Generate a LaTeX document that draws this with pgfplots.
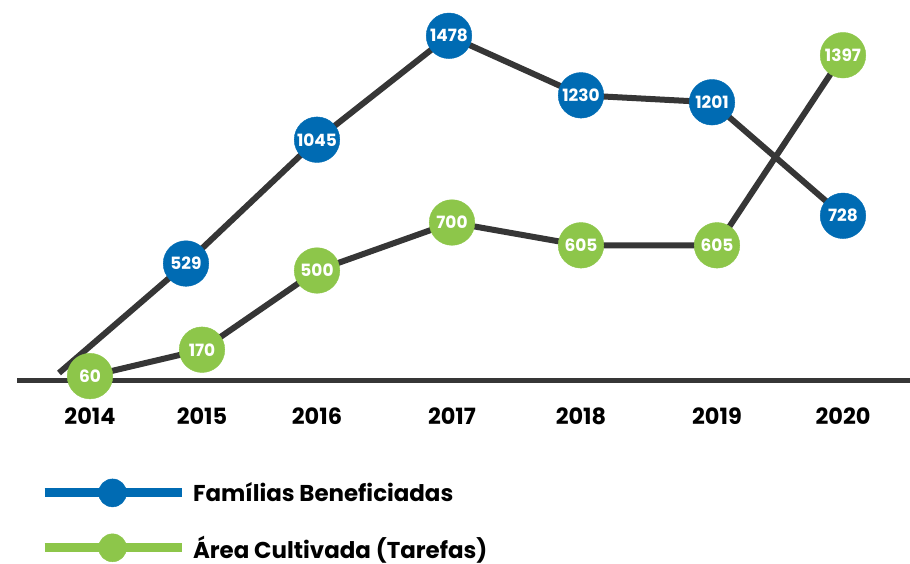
\documentclass[border=0pt]{standalone}
\usepackage{fontspec}
\setmainfont{Poppins}
\usepackage{pgfplots}
\pgfplotsset{compat=1.18}
\usepackage{pgfplotstable}
\definecolor{fblue}{RGB}{0,107,179}
\definecolor{agreen}{RGB}{141,198,74}
\definecolor{lgray}{RGB}{54,54,54}

\pgfplotstableread{
x v lab
59 73 x
186 529 529
317 1045 1045
449 1478 1478
581 1230 1230
712 1201 1201
843 728 728
}\familias

\pgfplotstableread{
x v lab
90 60 60
202 170 170
317 500 500
452 700 700
581 605 605
717 605 605
843 1397 1397
}\area

\begin{document}
\begin{tikzpicture}
\begin{axis}[
  at={(0,173.5bp)}, anchor=south west,
  x=1bp, y=0.24bp,
  xmin=0, xmax=910, ymin=0, ymax=1627,
  axis line style={draw=none}, tick style={draw=none}, ytick=\empty,
  xtick={90,202,317,452,581,717,843},
  xticklabels={2014,2015,2016,2017,2018,2019,2020},
  xticklabel style={anchor=base, yshift=-34.5bp, font=\fontsize{22.5}{22.5}\selectfont\bfseries},
  clip=false,
  legend cell align=left,
  legend style={at={(axis description cs:0.0440,-0.2259)}, anchor=north west,
    draw=none, fill=none, inner sep=0pt, outer sep=0pt, row sep=26.5bp, column sep=5bp,
    font=\fontsize{23}{23}\selectfont\bfseries},
]
\addplot[lgray, line width=5bp, forget plot] coordinates {(17,39.6) (910,39.6)};
\addplot[lgray, line width=6bp, line join=round, forget plot] table[x=x,y=v] \familias;
\addplot[lgray, line width=6bp, line join=round, forget plot] table[x=x,y=v] \area;
\addplot[fblue, only marks, mark=*, mark size=22.8bp, mark options={fill=fblue, draw=fblue, line width=0.4bp},
  skip coords between index={0}{1},
  point meta=explicit symbolic, nodes near coords,
  every node near coord/.append style={anchor=center, text=white, font=\fontsize{17}{17}\selectfont\bfseries},
  forget plot] table[x=x,y=v,meta=lab] \familias;
\addplot[agreen, only marks, mark=*, mark size=22.8bp, mark options={fill=agreen, draw=agreen, line width=0.4bp},
  point meta=explicit symbolic, nodes near coords,
  every node near coord/.append style={anchor=center, text=white, font=\fontsize{17}{17}\selectfont\bfseries},
  forget plot] table[x=x,y=v,meta=lab] \area;
\addlegendimage{legend image code/.code={
  \draw[fblue, line width=9bp] (0bp,0bp) -- (137bp,0bp);
  \fill[fblue] (68bp,0bp) circle (14bp);}}
\addlegendentry{Famílias Beneficiadas}
\addlegendimage{legend image code/.code={
  \draw[agreen, line width=9bp] (0bp,0bp) -- (137bp,0bp);
  \fill[agreen] (68bp,0bp) circle (14bp);}}
\addlegendentry{Área Cultivada (Tarefas)}
\end{axis}
\pgfresetboundingbox
\useasboundingbox (0,0) rectangle (910bp,564bp);
\end{tikzpicture}
\end{document}
